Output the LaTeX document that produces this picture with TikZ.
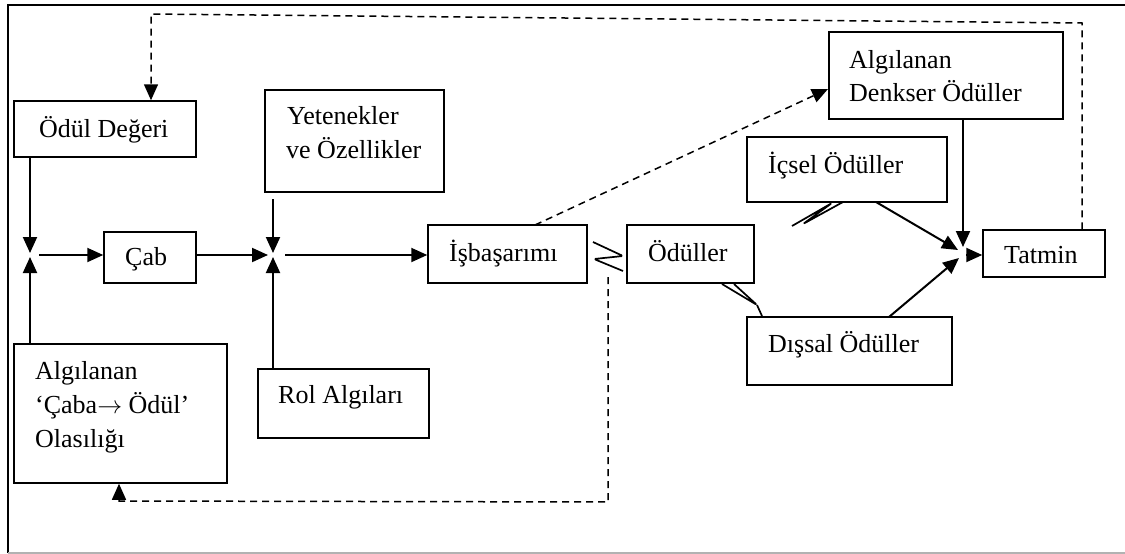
\documentclass[tikz,border=0pt]{standalone}
\usepackage{fontspec}
\setmainfont{Liberation Serif}
\usetikzlibrary{arrows.meta}
\begin{document}
\begin{tikzpicture}[x=1pt,y=-1pt,
 box/.style={draw, line width=1.5pt, inner sep=0pt},
 txt/.style={anchor=base west, inner sep=0pt, font=\fontsize{26}{32}\selectfont},
 arr/.style={line width=2pt, -{Triangle[length=16pt,width=14pt]}},
 darr/.style={line width=1.5pt, dash pattern=on 7pt off 5pt, -{Triangle[length=16pt,width=14pt]}},
 zz/.style={line width=1.7pt, line join=round, rounded corners=1.5pt}]
\useasboundingbox (0,0) rectangle (1125,554);
% frame
\draw[line width=1.5pt] (8,553) -- (8,5) -- (1125,5);
\draw[line width=1.2pt, gray!60] (8,553) -- (1125,553);
% boxes
\node[box, minimum width=182pt, minimum height=56pt] (od) at (105,129) {};
\node[box, minimum width=92pt, minimum height=51pt] (cab) at (150,257.5) {};
\node[box, minimum width=179pt, minimum height=102pt] (yet) at (354.5,141) {};
\node[box, minimum width=213pt, minimum height=139pt] (alg) at (120.5,413.5) {};
\node[box, minimum width=171pt, minimum height=69pt] (rol) at (343.5,403.5) {};
\node[box, minimum width=159pt, minimum height=58pt] (isb) at (507.5,254) {};
\node[box, minimum width=127pt, minimum height=58pt] (odl) at (690.5,254) {};
\node[box, minimum width=205pt, minimum height=68pt] (dis) at (849.5,351) {};
\node[box, minimum width=200pt, minimum height=65pt] (ics) at (847,169.5) {};
\node[box, minimum width=234pt, minimum height=87pt] (den) at (946,75.5) {};
\node[box, minimum width=122pt, minimum height=47pt] (tat) at (1044,253.5) {};
% texts
\node[txt] (tod) at (39,137) {Ödül Değeri};
\node[txt] (tcab) at (125,265) {Çab};
\node[txt] (tyet1) at (287,124) {Yetenekler};
\node[txt] (tyet2) at (286,158) {ve Özellikler};
\node[txt] (talg1) at (35,379) {Algılanan};
\node[txt] (talg2) at (35,413) {‘Çaba$\rightarrow$ Ödül’};
\node[txt] (talg3) at (35,447) {Olasılığı};
\node[txt] (trol) at (278,403) {Rol Algıları};
\node[txt] (tisb) at (449,261) {İşbaşarımı};
\node[txt] (todl) at (648,261) {Ödüller};
\node[txt] (tics) at (768,173) {İçsel Ödüller};
\node[txt] (tdis) at (768,352) {Dışsal Ödüller};
\node[txt] (tden1) at (849,68) {Algılanan};
\node[txt] (tden2) at (849,101) {Denkser Ödüller};
\node[txt] (ttat) at (1004,263) {Tatmin};
% junction coordinates
\coordinate (j1n) at (30,253);
\coordinate (j1s) at (30,257);
\coordinate (j1e) at (39,255);
\coordinate (j2) at (273,255);
\coordinate (j2n) at (273,253);
\coordinate (j2s) at (273,257);
\coordinate (j2w) at (268,255);
\coordinate (j2e) at (285,255);
\coordinate (yb) at (273,199);
\coordinate (t1) at (963,247);
\coordinate (t2) at (958,250);
\coordinate (t3) at (959,258);
\coordinate (t4) at (966,255);
\coordinate (icso) at (876,202);
\coordinate (diso) at (889,317);
% solid arrows
\draw[arr] (j1n |- od.south) -- (j1n);
\draw[arr] (j1s |- alg.north) -- (j1s);
\draw[arr] (j1e) -- (j1e -| cab.west);
\draw[arr] (yb) -- (j2n);
\draw[arr] (j2s |- rol.north) -- (j2s);
\draw[arr] (cab.east |- j2) -- (j2w);
\draw[arr] (j2e) -- (j2e -| isb.west);
\draw[arr] (t1 |- den.south) -- (t1);
\draw[arr] (icso) -- (t2);
\draw[arr] (diso) -- (t3);
\draw[arr] (t4) -- (t4 -| tat.west);
% dashed
\coordinate (d1) at (535,225);
\coordinate (d1t) at (828,89);
\draw[darr] (d1) -- (d1t);
\coordinate (tl1) at (1082,23);
\coordinate (tl2) at (151,14);
\draw[darr] (tl1 |- tat.north) -- (tl1) -- (tl2) -- (tl2 |- od.north);
\coordinate (b1) at (608,277);
\coordinate (b2) at (608,502);
\coordinate (b3) at (119,501);
\draw[darr] (b1) -- (b2) -- (b3) -- (b3 |- alg.south);
% squiggles
\draw[zz] (593,242) -- (623,256) -- (594,259) -- (623,271);
\draw[zz] (734,284) -- (757,305) -- (722,284) (757,305) -- (762,316);
\draw[zz] (792,226) -- (832,203) -- (803,224) -- (843,202);
\end{tikzpicture}
\end{document}
